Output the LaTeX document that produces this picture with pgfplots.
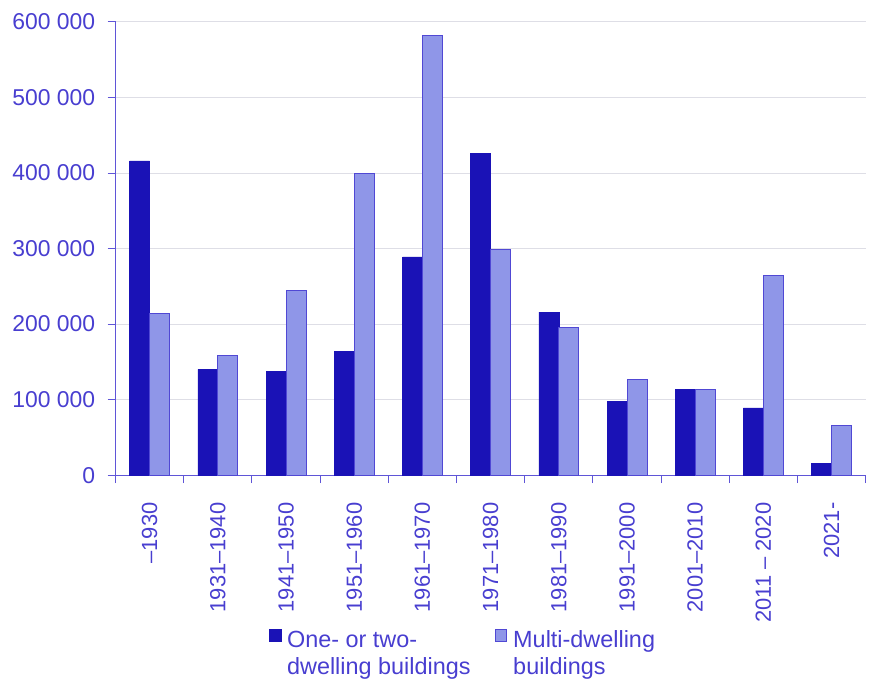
\documentclass[border=0pt]{standalone}
\usepackage{pgfplots}
\pgfplotsset{compat=1.18}
\usepackage{fontspec}
\setmainfont{Liberation Sans}

\definecolor{txtblue}{RGB}{72,62,208}
\definecolor{axisblue}{RGB}{95,85,215}
\definecolor{darkbar}{RGB}{26,18,182}
\definecolor{lightbar}{RGB}{143,150,232}
\definecolor{lightedge}{RGB}{80,72,212}
\definecolor{gridgray}{RGB}{222,222,230}

\pgfplotstableread{
x one multi
0  416000 214000
1  140000 158000
2  137000 244000
3  164000 399000
4  289000 582000
5  426000 299000
6  216000 196000
7   98000 127000
8  114000 114000
9   89000 264000
10  16000  66000
}\dwellings

\begin{document}
\begin{tikzpicture}
\begin{axis}[
  scale only axis,
  width=753pt, height=455pt,
  ybar=0pt, bar width=20pt,
  xmin=-0.5, xmax=10.5,
  ymin=0, ymax=600000,
  axis x line*=bottom, axis y line*=left,
  axis line style={axisblue, line width=1pt},
  tick align=outside,
  tick style={axisblue, line width=1pt},
  major tick length=8pt,
  xtick={-0.5,0.5,...,10.5},
  xticklabels={},
  extra x ticks={0,1,2,3,4,5,6,7,8,9,10},
  extra x tick labels={–1930,1931–1940,1941–1950,1951–1960,1961–1970,1971–1980,1981–1990,1991–2000,2001–2010,2011 – 2020,2021-},
  extra x tick style={major tick length=0pt, grid=none,
    tick label style={rotate=90, anchor=east, xshift=-24pt}},
  x tick label style={font=\fontsize{22}{26}\selectfont, text=txtblue},
  ytick={0,100000,200000,300000,400000,500000,600000},
  yticklabels={0,100 000,200 000,300 000,400 000,500 000,600 000},
  scaled y ticks=false,
  y tick label style={font=\fontsize{23}{27}\selectfont, text=txtblue, xshift=-9pt},
  ymajorgrids=true,
  grid style={gridgray, line width=1pt},
  legend style={at={(axis description cs:0.463,-0.33)}, anchor=north,
    draw=none, fill=none, legend columns=2,
    font=\fontsize{23.5}{27}\selectfont, text=txtblue,
    /tikz/every odd column/.append style={column sep=4pt},
    /tikz/every even column/.append style={column sep=22pt},
    cells={anchor=west}},
  legend image code/.code={\draw[#1] (0pt,-2pt) rectangle (12pt,10pt);},
]
\addplot[fill=darkbar, draw=darkbar, line width=0.5pt] table[x=x, y=one] {\dwellings};
\addlegendentry{\begin{tabular}[t]{@{}l@{}}One- or two-\\dwelling buildings\end{tabular}}
\addplot[fill=lightbar, draw=lightedge, line width=0.8pt] table[x=x, y=multi] {\dwellings};
\addlegendentry{\begin{tabular}[t]{@{}l@{}}Multi-dwelling\\buildings\end{tabular}}
\end{axis}
\path (-116pt,-205pt) rectangle (753pt,477pt);
\end{tikzpicture}
\end{document}
